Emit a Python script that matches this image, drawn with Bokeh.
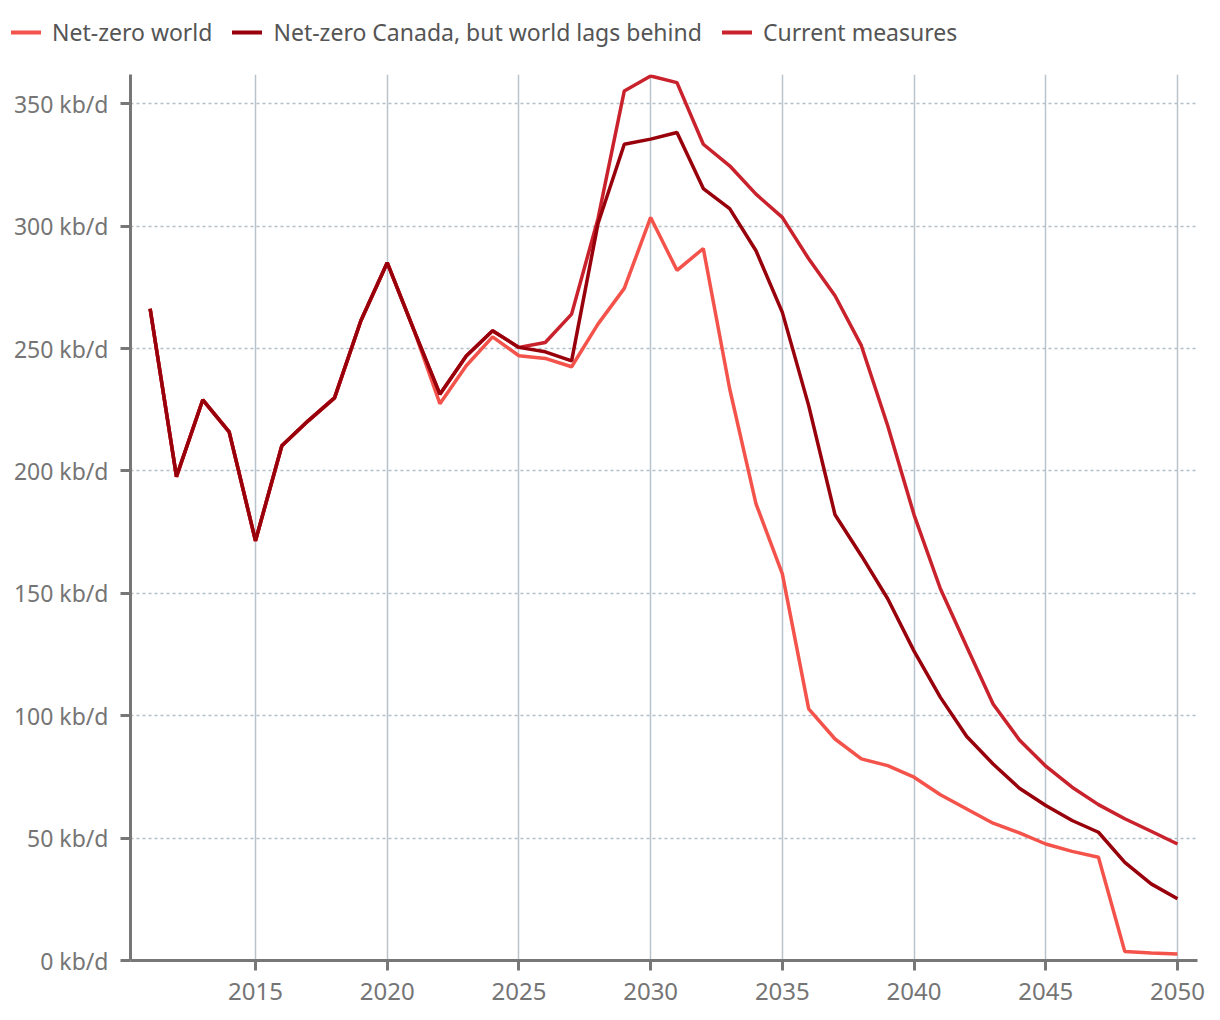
from bokeh.plotting import figure
from bokeh.models import Legend, LegendItem, FixedTicker, Range1d
from bokeh.embed import file_html
from bokeh.resources import INLINE

years = list(range(2011, 2051))

history = [266.3, 197.7, 229.1, 216.0, 171.5, 210.3, 220.5, 229.9, 261.4, 285.1, 258.0]

net_zero_world = history + [
    227.5, 243.0, 254.8, 247.1, 246.0, 242.6, 260.0, 274.6, 303.6, 282.0,
    290.9, 233.6, 186.6, 158.0, 102.8, 90.5, 82.4, 79.6, 74.9, 67.7,
    61.9, 56.1, 52.1, 47.6, 44.6, 42.2, 3.7, 3.1, 2.7]

net_zero_canada = history + [
    231.4, 247.0, 257.3, 250.5, 248.7, 245.0, 301.0, 333.5, 335.6, 338.3,
    315.4, 307.2, 290.0, 264.8, 226.7, 182.1, 165.4, 147.8, 126.4, 107.5,
    91.5, 80.3, 70.4, 63.3, 57.2, 52.4, 40.1, 31.3, 25.2]

current_measures = history + [
    231.4, 247.0, 257.3, 250.5, 252.5, 264.1, 303.0, 355.3, 361.4, 358.7,
    333.5, 324.7, 313.1, 303.6, 286.7, 271.6, 251.2, 218.5, 182.1, 151.9,
    128.2, 104.8, 90.1, 79.4, 70.8, 63.7, 57.9, 52.8, 47.6]

series_names = ["Net-zero world", "Net-zero Canada, but world lags behind", "Current measures"]
series_colors = ["#f4534b", "#98000b", "#c9222c"]
series_values = [net_zero_world, net_zero_canada, current_measures]

x_ticks = [2015, 2020, 2025, 2030, 2035, 2040, 2045, 2050]
y_ticks = [0, 50, 100, 150, 200, 250, 300, 350]
y_tick_labels = ["0 kb/d", "50 kb/d", "100 kb/d", "150 kb/d", "200 kb/d", "250 kb/d", "300 kb/d", "350 kb/d"]

FONT = "Noto Sans"
W = 1212
LEG_H = 60

# ---------- legend strip (its own root, so its frame spans the full width) ----------
lf = figure(width=W, height=LEG_H, output_backend="svg", toolbar_location=None,
            x_range=Range1d(0, 1), y_range=Range1d(0, 1),
            x_axis_type=None, y_axis_type=None,
            min_border_left=0, min_border_right=0, min_border_top=0, min_border_bottom=0)
lf.outline_line_color = None
lf.xgrid.visible = False
lf.ygrid.visible = False
# the series are drawn here outside the strip's visible range; only their legend swatches show
leg_renderers = [lf.line(years, v, line_color=c, line_width=4, line_cap="round")
                 for v, c in zip(series_values, series_colors)]
legend = Legend(items=[LegendItem(label=n, renderers=[r])
                       for n, r in zip(series_names, leg_renderers)],
                location=(11, 12), orientation="horizontal")
legend.padding = 0
legend.margin = 0
legend.spacing = 20
legend.glyph_width = 30
legend.glyph_height = 24
legend.label_standoff = 11
legend.label_text_font = FONT
legend.label_text_font_size = "23px"
legend.label_text_color = "#555555"
legend.border_line_color = None
legend.background_fill_alpha = 0
lf.add_layout(legend)

# ---------- main chart ----------
p = figure(width=W, height=1016 - LEG_H, output_backend="svg", toolbar_location=None,
           x_range=Range1d(2010.255, 2050.76), y_range=Range1d(0, 362),
           min_border_left=130, min_border_right=15, min_border_top=74 - LEG_H,
           min_border_bottom=56)
p.outline_line_color = None
p.background_fill_color = "white"

p.xgrid.ticker = FixedTicker(ticks=x_ticks)
p.xgrid.grid_line_color = "#b8c3cb"
p.xgrid.grid_line_width = 1.5
p.ygrid.ticker = FixedTicker(ticks=y_ticks)
p.ygrid.grid_line_color = "#b3bec6"
p.ygrid.grid_line_width = 1.5
p.ygrid.grid_line_dash = "3 3"

for ax in (p.xaxis[0], p.yaxis[0]):
    ax.axis_line_color = "#777777"
    ax.axis_line_width = 3
    ax.major_tick_line_color = "#777777"
    ax.major_tick_line_width = 3
    ax.major_tick_out = 10
    ax.major_tick_in = 0
    ax.minor_tick_line_color = None
    ax.major_label_text_color = "#757575"
    ax.major_label_text_font = FONT
    ax.major_label_standoff = 12

p.xaxis.ticker = FixedTicker(ticks=x_ticks)
p.xaxis.major_label_text_font_size = "24px"
p.yaxis.ticker = FixedTicker(ticks=y_ticks)
p.yaxis.major_label_overrides = {t: l for t, l in zip(y_ticks, y_tick_labels)}
p.yaxis.major_label_text_font_size = "23px"

# draw order: world, current, canada on top
p.line(years, net_zero_world, line_color=series_colors[0], line_width=3.5)
p.line(years, current_measures, line_color=series_colors[2], line_width=3.5)
p.line(years, net_zero_canada, line_color=series_colors[1], line_width=3.5)

open("out.html", "w").write(file_html([lf, p], INLINE))
